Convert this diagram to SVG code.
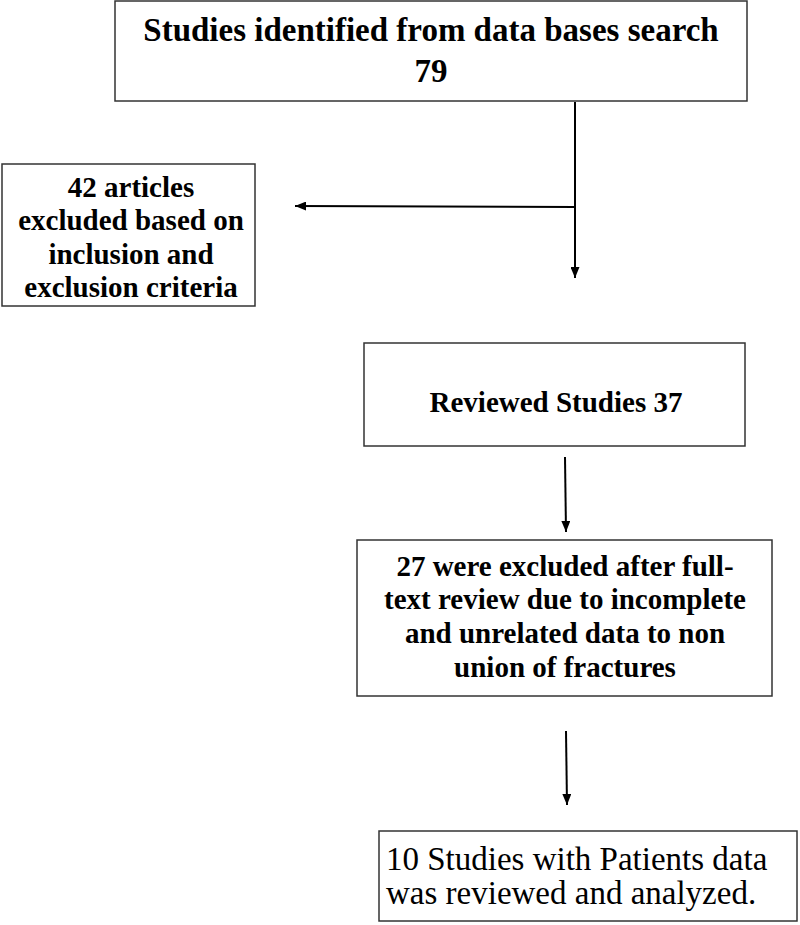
<svg xmlns="http://www.w3.org/2000/svg" width="800" height="925" viewBox="0 0 800 925">
<defs>
<marker id="ah" viewBox="0 0 11 9" refX="11" refY="4.5" markerWidth="11" markerHeight="9" markerUnits="userSpaceOnUse" orient="auto">
<path d="M0,0 L11,4.5 L0,9 Z" fill="#000"/>
</marker>
<style>
.box{fill:#fff;stroke:#333;stroke-width:1.5}
.b{font-family:"Liberation Serif","Times New Roman",serif;font-weight:bold;fill:#000;text-anchor:middle}
.r{font-family:"Liberation Serif","Times New Roman",serif;fill:#000}
.ln{stroke:#000;stroke-width:2;fill:none}
</style>
</defs>
<rect width="800" height="925" fill="#fff"/>
<g id="n1">
<rect class="box" x="115" y="1" width="632" height="100"/>
<text class="b" x="431" y="41" font-size="33">Studies identified from data bases search</text>
<text class="b" x="431" y="82" font-size="33">79</text>
</g>
<g id="n2">
<rect class="box" x="2" y="164" width="253" height="142"/>
<text class="b" x="131" y="197" font-size="29">42 articles</text>
<text class="b" x="131" y="230" font-size="29">excluded based on</text>
<text class="b" x="131" y="264" font-size="29">inclusion and</text>
<text class="b" x="131" y="297" font-size="29">exclusion criteria</text>
</g>
<g id="n3">
<rect class="box" x="364" y="343" width="381" height="103"/>
<text class="b" x="556" y="412" font-size="29">Reviewed Studies 37</text>
</g>
<g id="n4">
<rect class="box" x="357" y="540" width="415" height="156"/>
<text class="b" x="565" y="576" font-size="29">27 were excluded after full-</text>
<text class="b" x="565" y="609" font-size="29">text review due to incomplete</text>
<text class="b" x="565" y="643" font-size="29">and unrelated data to non</text>
<text class="b" x="565" y="677" font-size="29">union of fractures</text>
</g>
<g id="n5">
<rect class="box" x="379" y="831" width="418" height="90"/>
<text class="r" x="386" y="870" font-size="33">10 Studies with Patients data</text>
<text class="r" x="386" y="904" font-size="33">was reviewed and analyzed.</text>
</g>
<g id="connectors">
<line class="ln" x1="575" y1="102" x2="575" y2="278" marker-end="url(#ah)"/>
<line class="ln" x1="575" y1="207" x2="295" y2="206" marker-end="url(#ah)"/>
<line class="ln" x1="565" y1="457" x2="566" y2="532" marker-end="url(#ah)"/>
<line class="ln" x1="566" y1="731" x2="567" y2="805" marker-end="url(#ah)"/>
</g>
</svg>
